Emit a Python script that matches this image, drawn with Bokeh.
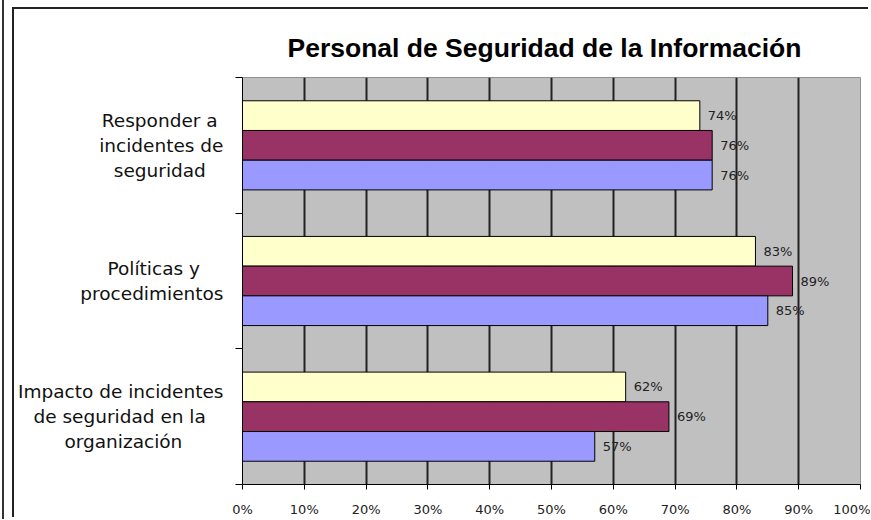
from bokeh.plotting import figure
from bokeh.models import LinearAxis, FixedTicker, ColumnDataSource
from bokeh.layouts import column
from bokeh.transform import dodge
from bokeh.embed import file_html
from bokeh.resources import INLINE
from bokeh.core.properties import value

# ---- data ----
title = "Personal de Seguridad de la Información"
categories = [["Responder a", "incidentes de", "seguridad"],
              ["Políticas y", "procedimientos"],
              ["Impacto de incidentes", "de seguridad en la", "organización"]]
series_yellow = [74, 83, 62]
series_maroon = [76, 89, 69]
series_blue = [76, 85, 57]
x_ticks = [0, 10, 20, 30, 40, 50, 60, 70, 80, 90, 100]
x_tick_labels = ["0%", "10%", "20%", "30%", "40%", "50%", "60%", "70%", "80%", "90%", "100%"]

# ---- style ----
colors = ["#FFFFCC", "#993366", "#9999FF"]
offsets = [0.219, 0.0, -0.219]
bar_h = 0.219
# trailing no-break spaces so that the right-anchored lines appear centred
line_pad = [[1, 0, 3], [4, 0], [0, 3, 7]]

n = len(categories)
ypos = [n - i - 0.5 for i in range(n)]
cat_text = ["\n".join(line + "\u00a0" * k for line, k in zip(lines, pads))
            for lines, pads in zip(categories, line_pad)]

p = figure(width=856, height=510, x_range=(0, 100), y_range=(0, n),
           output_backend="svg", toolbar_location=None,
           min_border_left=228, min_border_right=10,
           min_border_top=68, min_border_bottom=31)
p.background_fill_color = "#C0C0C0"
p.border_fill_color = "white"
p.outline_line_color = "#909090"
p.outline_line_width = 1

p.title.text = title
p.title.text_font = "Liberation Sans"
p.title.text_font_size = "26.5px"
p.title.text_font_style = "bold"
p.title.align = "left"
p.title.offset = 45
p.title.text_color = "black"
p.title.standoff = 29

for vals, off, col in zip([series_yellow, series_maroon, series_blue], offsets, colors):
    src = ColumnDataSource(dict(y=ypos, v=vals, t=[f"{v}%" for v in vals]))
    p.hbar(y=dodge("y", off), right="v", left=0, height=bar_h, source=src,
           fill_color=col, line_color="black", line_width=1)
    p.text(x="v", y=dodge("y", off), text="t", source=src, x_offset=8,
           text_font=value("DejaVu Sans"), text_font_size="13px",
           text_color="#222222", text_baseline="middle", text_align="left")

# axes
p.xaxis.ticker = FixedTicker(ticks=x_ticks)
p.xaxis.major_label_overrides = {t: l for t, l in zip(x_ticks, x_tick_labels)}
p.xaxis.major_label_text_font = "DejaVu Sans"
p.xaxis.major_label_text_font_size = "13px"
p.xaxis.major_label_text_color = "#222222"
p.xaxis.major_tick_out = 5
p.xaxis.major_tick_in = 0
p.xaxis.minor_tick_line_color = None
p.xaxis.axis_line_color = "black"
p.xaxis.major_tick_line_color = "black"
p.xaxis.major_label_standoff = 12

p.yaxis.ticker = FixedTicker(ticks=list(range(n + 1)))
p.yaxis.major_label_text_font_size = "0px"
p.yaxis.major_label_text_color = None
p.yaxis.major_label_standoff = 0
p.yaxis.major_tick_out = 7
p.yaxis.major_tick_in = 0
p.yaxis.minor_tick_line_color = None
p.yaxis.axis_line_color = "black"
p.yaxis.major_tick_line_color = "black"

cat_axis = LinearAxis(ticker=FixedTicker(ticks=ypos),
                      major_label_overrides={y: c for y, c in zip(ypos, cat_text)})
cat_axis.axis_line_color = None
cat_axis.major_tick_line_color = None
cat_axis.minor_tick_line_color = None
cat_axis.major_label_standoff = 6
cat_axis.major_label_text_font = "DejaVu Sans"
cat_axis.major_label_text_font_size = "18.5px"
cat_axis.major_label_text_color = "#111111"
cat_axis.major_label_text_line_height = 1.2
p.add_layout(cat_axis, "left")

p.xgrid.ticker = FixedTicker(ticks=x_ticks)
p.xgrid.grid_line_color = "#222222"
p.xgrid.grid_line_width = 2
p.ygrid.grid_line_color = None

box = column(p, styles={"margin-left": "10px", "margin-top": "9px",
                        "box-shadow": "-2px -2px 0 0 #222222"})
page = column(box, styles={"border-left": "2px solid #333333", "margin-left": "2px"})

open("out.html", "w").write(file_html(page, INLINE))
